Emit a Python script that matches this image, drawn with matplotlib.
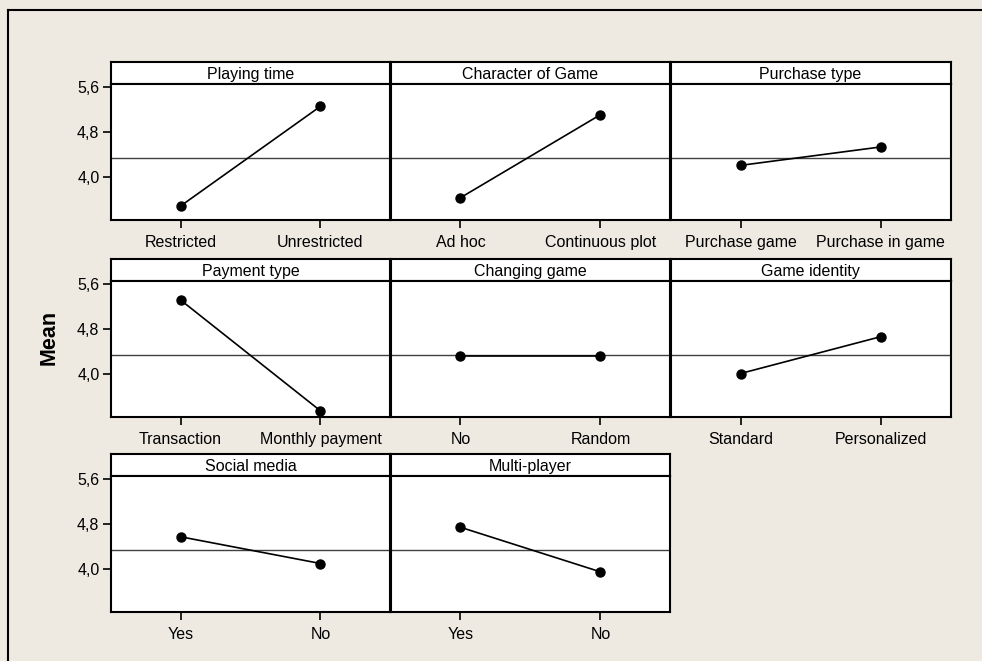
import matplotlib
matplotlib.use("Agg")
import matplotlib.pyplot as plt
from matplotlib.lines import Line2D

plt.rcParams['font.family'] = ['Liberation Sans', 'DejaVu Sans']

factors = ["Playing time", "Character of Game", "Purchase type",
           "Payment type", "Changing game", "Game identity",
           "Social media", "Multi-player"]
levels = [["Restricted", "Unrestricted"],
          ["Ad hoc", "Continuous plot"],
          ["Purchase game", "Purchase in game"],
          ["Transaction", "Monthly payment"],
          ["No", "Random"],
          ["Standard", "Personalized"],
          ["Yes", "No"],
          ["Yes", "No"]]
means = [[3.47, 5.26],
         [3.62, 5.11],
         [4.20, 4.53],
         [5.32, 3.33],
         [4.32, 4.32],
         [4.00, 4.66],
         [4.57, 4.09],
         [4.74, 3.94]]
grand_mean = 4.34
ytick_values = [4.0, 4.8, 5.6]
ytick_labels = ["4,0", "4,8", "5,6"]
y_label = "Mean"

W, H = 982, 661
BG = "#EEEAE1"
fig = plt.figure(figsize=(W / 100, H / 100), dpi=100, facecolor=BG)

panel_left = 110.5
panel_w = 280
row_tops = [62, 259, 454]
head_h = 22
axes_h = 136

def frac_rect(x, y_top, w, h):
    return [x / W, 1 - (y_top + h) / H, w / W, h / H]

for i, name in enumerate(factors):
    r, c = divmod(i, 3)
    x = panel_left + c * panel_w
    top = row_tops[r]
    # header
    hax = fig.add_axes(frac_rect(x, top, panel_w, head_h))
    hax.set_facecolor("white")
    hax.set_xticks([]); hax.set_yticks([])
    for s in hax.spines.values():
        s.set_linewidth(1.5); s.set_color("black")
    hax.text(0.5, 0.45, name, ha="center", va="center", fontsize=11.5,
             transform=hax.transAxes)
    # data axes
    ax = fig.add_axes(frac_rect(x, top + head_h, panel_w, axes_h))
    ax.set_facecolor("white")
    for s in ax.spines.values():
        s.set_linewidth(1.5); s.set_color("black")
    ax.axhline(grand_mean, color="#404040", lw=1.0, zorder=1)
    ax.plot([1, 2], means[i], color="black", lw=1.2, marker="o",
            markersize=6.5, zorder=3)
    ax.set_xlim(0.5, 2.5)
    ax.set_ylim(3.22, 5.66)
    ax.set_xticks([1, 2])
    ax.set_xticklabels(levels[i], fontsize=11.5)
    ax.tick_params(axis="x", direction="out", length=6, width=1.2, pad=5)
    if c == 0:
        ax.set_yticks(ytick_values)
        ax.set_yticklabels(ytick_labels, fontsize=11.5)
        ax.tick_params(axis="y", direction="out", length=6, width=1.2, pad=2)
    else:
        ax.set_yticks([])

fig.text(49 / W, 1 - 337 / H, y_label, rotation=90, ha="center", va="center",
         fontsize=15.5, fontweight="bold")

# outer frame (left and top)
fig.add_artist(Line2D([8 / W, 1.0], [1 - 10 / H, 1 - 10 / H],
                      transform=fig.transFigure, color="black", lw=1.5))
fig.add_artist(Line2D([8 / W, 8 / W], [0.0, 1 - 10 / H],
                      transform=fig.transFigure, color="black", lw=1.5))

fig.savefig("out.png", dpi=100, facecolor=BG)
